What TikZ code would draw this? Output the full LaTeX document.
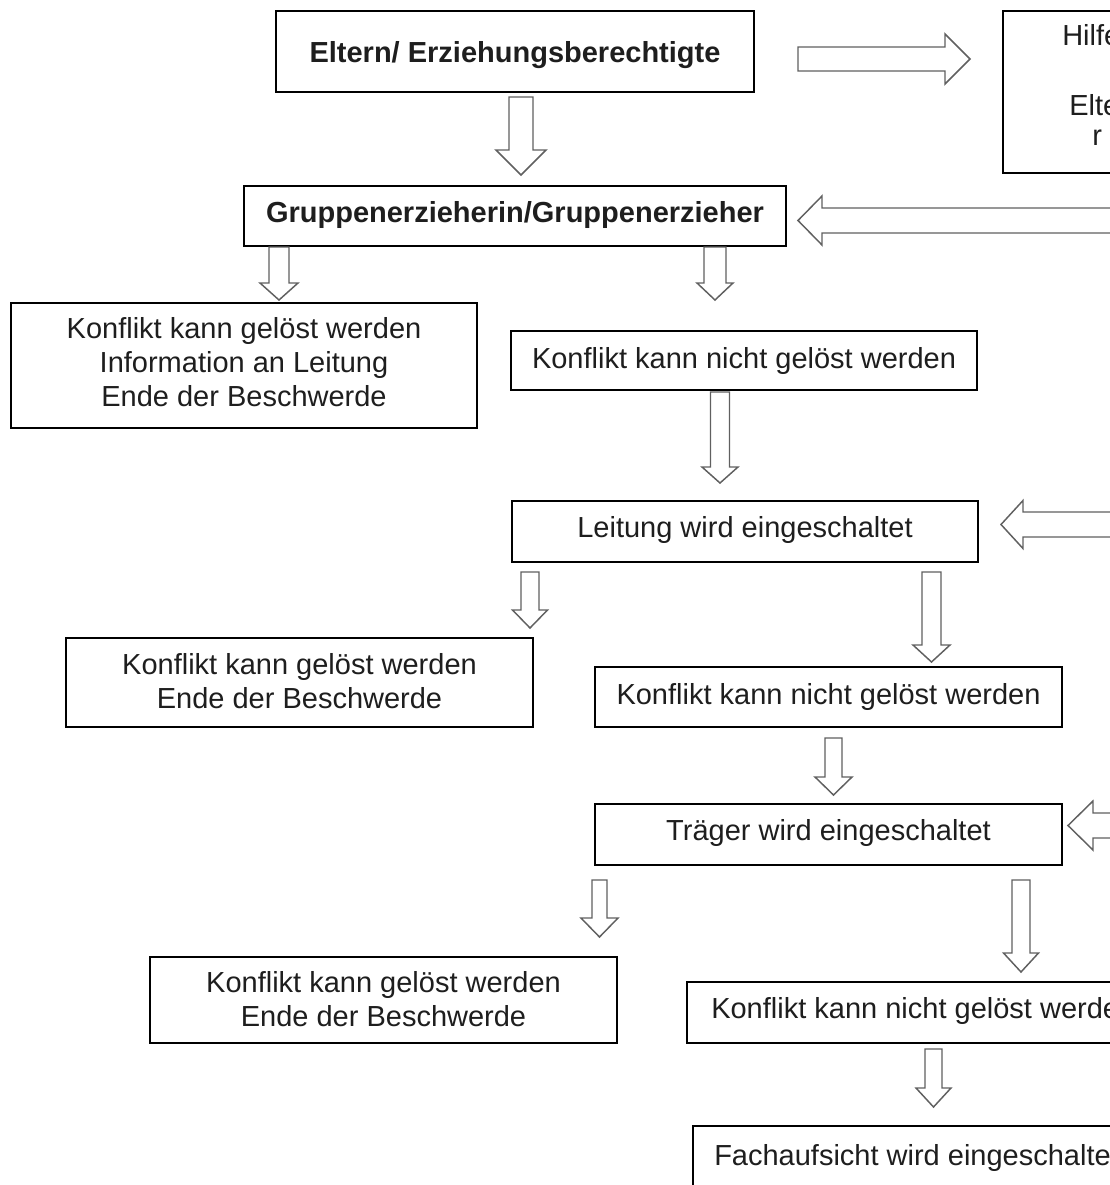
\documentclass[tikz,border=0pt]{standalone}
\usepackage{fontspec}
\setmainfont{Liberation Sans}
\definecolor{txt}{HTML}{1E1E1E}
\definecolor{arrgray}{HTML}{606060}
\newcommand\boxnode[7]{%
  \node[fbox,minimum width={(#4-#2)*0.75pt},minimum height={(#5-#3)*0.75pt}] (#1) at ({(#2+#4)/2},{(#3+#5)/2}) {};
  \node[lbl,align=center,#7] (#1-t) at (#1.center) {#6};}
% down block arrow: cx, top, base, tip, shaft half, head half
\newcommand\arrD[6]{\draw[barrow] ({#1-#5},#2) -- ({#1+#5},#2) -- ({#1+#5},#3) -- ({#1+#6},#3) -- (#1,#4) -- ({#1-#6},#3) -- ({#1-#5},#3) -- cycle;}
% horizontal block arrow: cy, start x, base x, tip x, shaft half, head half
\newcommand\arrH[6]{\draw[barrow] (#2,{#1-#5}) -- (#3,{#1-#5}) -- (#3,{#1-#6}) -- (#4,#1) -- (#3,{#1+#6}) -- (#3,{#1+#5}) -- (#2,{#1+#5}) -- cycle;}
\begin{document}
\begin{tikzpicture}[x=0.75pt,y=-0.75pt,
  fbox/.style={draw=black,line width=1.3pt,fill=white,inner sep=0pt,outer sep=0pt},
  lbl/.style={inner sep=0pt,text=txt,font=\fontsize{21.75pt}{25.5pt}\selectfont},
  boldlbl/.style={font=\fontsize{21.75pt}{25.5pt}\selectfont\bfseries},
  barrow/.style={draw=arrgray,line width=1.1pt,fill=white,line join=miter}]
\useasboundingbox (0,0) rectangle (1110,1185);
\clip (0,0) rectangle (1110,1185);
\fill[white] (0,0) rectangle (1110,1185);

% boxes
\boxnode{eltern}{276}{11}{754}{92}{Eltern/ Erziehungsberechtigte}{boldlbl,yshift=-2.5pt}
\boxnode{hilfe}{1003}{11}{1140}{173}{}{}
\node[lbl,anchor=west] (hilfeA) at (1062,35) {Hilfe};
\node[lbl,anchor=west] (hilfeB) at (1069,105) {Eltern};
\node[lbl,anchor=west] (hilfeC) at (1092,138) {r};
\boxnode{gruppe}{244}{186}{786}{246}{Gruppenerzieherin/Gruppenerzieher}{boldlbl,yshift=0.5pt}
\boxnode{kl1}{11}{303}{477}{428}{Konflikt kann gelöst werden\\Information an Leitung\\Ende der Beschwerde}{yshift=2.2pt}
\boxnode{kn1}{511}{331}{977}{390}{Konflikt kann nicht gelöst werden}{}
\boxnode{leitung}{512}{501}{978}{562}{Leitung wird eingeschaltet}{yshift=1pt}
\boxnode{kl2}{66}{638}{533}{727}{Konflikt kann gelöst werden\\Ende der Beschwerde}{yshift=1pt}
\boxnode{kn2}{595}{667}{1062}{727}{Konflikt kann nicht gelöst werden}{}
\boxnode{traeger}{595}{804}{1062}{865}{Träger wird eingeschaltet}{yshift=1pt}
\boxnode{kl3}{150}{957}{617}{1043}{Konflikt kann gelöst werden\\Ende der Beschwerde}{yshift=1pt}
\boxnode{kn3}{687}{982}{1163}{1043}{}{}
\node[lbl,anchor=west] (kn3t) at (711,1011) {Konflikt kann nicht gelöst werden};
\boxnode{fach}{693}{1126}{1160}{1210}{}{}
\node[lbl,anchor=west] (facht) at (714,1158) {Fachaufsicht wird eingeschaltet};

% block arrows
\arrD{521}{97}{150}{175}{12}{25}
\arrH{59}{798}{945}{970}{12}{25}
\arrH{220.5}{1130}{822}{798}{12.5}{24.5}
\arrD{279}{247}{283}{300}{10}{19}
\arrD{715}{247}{283}{300}{11}{18}
\arrD{720}{392}{467}{483}{9.5}{18}
\arrH{524.5}{1130}{1023}{1001}{12.5}{24}
\arrD{530}{572}{610}{628}{9}{17.5}
\arrD{931.5}{572}{645}{662}{9.5}{18.5}
\arrD{833.5}{738}{777}{795}{8.5}{18.5}
\arrH{825.5}{1130}{1093}{1068}{12.5}{24.5}
\arrD{599.5}{880}{918}{937}{7.5}{18.5}
\arrD{1021}{880}{953}{972}{9}{17.5}
\arrD{933.5}{1049}{1088}{1107}{8.5}{17.5}
\end{tikzpicture}
\end{document}
